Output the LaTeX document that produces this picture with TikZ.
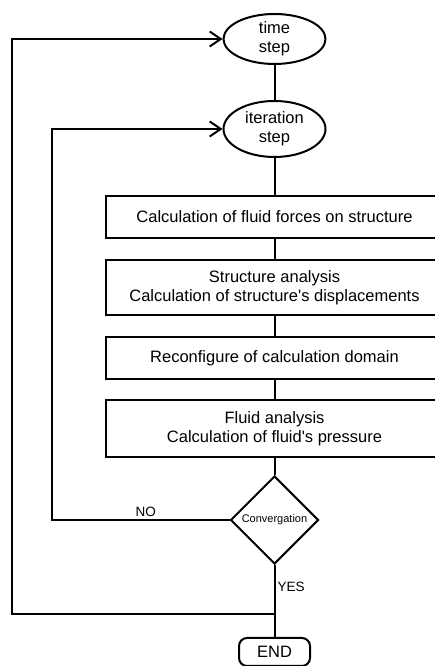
\documentclass[tikz,border=0pt]{standalone}
\usepackage{fontspec}
\setmainfont{Liberation Sans}
\usetikzlibrary{arrows.meta,positioning,shapes.geometric}

\begin{document}
\begin{tikzpicture}[
  x=1pt, y=1pt,
  font=\fontsize{16.5}{19}\selectfont,
  node distance=20pt,
  term/.style={draw, ellipse, line width=2pt, align=center, inner sep=0pt, minimum width=102pt},
  proc/.style={draw, line width=2pt, align=center, minimum width=338pt},
  decide/.style={draw, diamond, line width=2pt, inner sep=0pt, minimum size=88pt, font=\fontsize{11}{13}\selectfont},
  stopbox/.style={draw, rounded corners=8pt, line width=2pt, minimum width=71pt, minimum height=28pt, inner sep=0pt},
  lbl/.style={font=\fontsize{13.5}{16}\selectfont, inner sep=2pt},
  link/.style={line width=2pt},
  arrow/.style={line width=2pt, -{Straight Barb[length=11pt, width=15pt]}}
]
\useasboundingbox (0,0) rectangle (435,666);
\clip (0,0) rectangle (435,666);

\node[term, minimum height=50pt] (time) at (274.5,627) {time\\step};
\node[term, minimum height=56pt, below=35pt of time] (iter) {iteration\\step};
\node[proc, minimum height=42pt, below=37pt of iter] (forces) {Calculation of fluid forces on structure};
\node[proc, minimum height=55pt, below=of forces] (struct) {Structure analysis\\Calculation of structure\textquotesingle s displacements};
\node[proc, minimum height=42pt, below=of struct] (domain) {Reconfigure of calculation domain};
\node[proc, minimum height=57pt, below=19pt of domain] (fluid) {Fluid analysis\\Calculation of fluid\textquotesingle s pressure};
\node[decide, below=17pt of fluid] (conv) {Convergation};
\coordinate[below=49pt of conv] (merge);
\node[stopbox, below=72pt of conv] (end) {END};

\draw[link] (time) -- (iter);
\draw[link] (iter) -- (forces);
\draw[link] (forces) -- (struct);
\draw[link] (struct) -- (domain);
\draw[link] (domain) -- (fluid);
\draw[link] (fluid) -- (conv);
\draw[link] (conv) -- node[lbl, right, pos=0.45] {YES} (merge) -- (end);

% loops back
\draw[arrow] (conv.west) -- node[lbl, above, pos=0.47] {NO} ++(-178pt,0) |- (iter.west);
\draw[arrow] (merge) -- ++(-263pt,0) |- (time.west);
\end{tikzpicture}
\end{document}
